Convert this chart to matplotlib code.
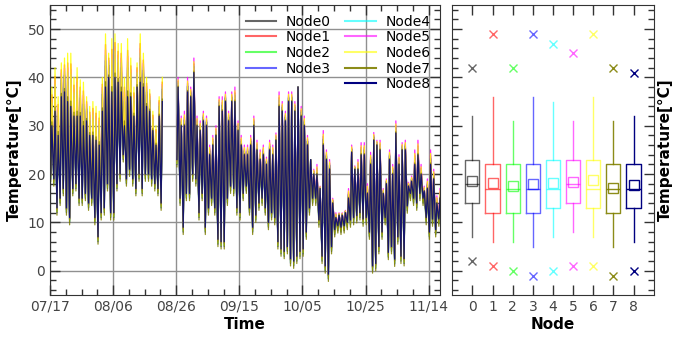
import numpy as np
import matplotlib
matplotlib.use('Agg')
import matplotlib.pyplot as plt
import matplotlib.dates as mdates
from matplotlib.lines import Line2D
from datetime import datetime

nodes = ['Node0', 'Node1', 'Node2', 'Node3', 'Node4', 'Node5', 'Node6', 'Node7', 'Node8']
colors = ['black', 'red', 'lime', 'blue', 'cyan', 'magenta', 'yellow', 'olive', 'navy']
alphas = [0.6, 0.6, 0.6, 0.6, 0.6, 0.6, 0.6, 0.9, 1.0]

# daily values, one entry per day from 07/17 (nan = no data)
top_hi = [38, 42, 36, 43, 44, 45, 45, 40, 42, 39.5, 39, 36, 34, 35, 34, 33, 40, 49, 45, 48,
          49, 47, 47, 40, 48, 44, 38, 43, 49, 45, 40, 37.5, 33, 30, 36, 40, np.nan, np.nan, np.nan, np.nan,
          40, 32, 33, 40, 38, 44, 32, 31, 33, 32, 26, 28, 30, 36, 36, 37, 33, 37, 38, 31,
          28, 26, 26, 28, 32, 27, 25, 26, 23.5, 27, 26, 28.5, 37, 35, 33, 37, 37, 35, 38, 34,
          32, 28, 23, 21, 22, 17.5, 29, 25, 23, 15, 12, 12, 12, 12.5, 17, 26, 21.7, 23, 26.5, 26.5,
          18, 24.5, 28.6, 27, 27, 17, 19, 25, 22, 31, 24, 26.5, 27, 18.3, 19.6, 25, 27, 22, 17.5, 19,
          25, 21, 15.5, 17]
navy_hi = [30, 33, 28, 36, 37, 35, 34, 32, 32, 32, 30, 31, 28, 28, 27, 26, 33, 38, 40, 37,
           40, 39, 37, 30, 36, 36, 32, 38, 39, 38, 34, 33, 29, 26, 32, 35, np.nan, np.nan, np.nan, np.nan,
           38, 30, 30, 37, 36, 41, 30, 29, 31, 30, 24, 26, 28, 34, 33, 35, 31, 35, 35, 29,
           26, 24, 24, 26, 30, 25, 23, 24, 22, 25, 24, 27, 34, 33, 31, 35, 35, 33, 38, 32,
           30, 26, 23, 20, 20, 17, 26, 23, 21, 14, 11, 11.5, 11.5, 12, 15, 24.5, 21, 21, 24, 24,
           16, 22, 27, 26, 25, 16, 18, 23, 20, 28.5, 22, 25, 25, 17.5, 18.5, 22, 24, 20, 16.5, 17,
           22, 19, 14, 15]
navy_lo = [20, 19, 13, 15, 17, 13, 11, 17, 18, 15, 15, 16, 14, 15, 11, 7, 12, 13, 18, 12,
           12, 18, 20, 24, 19, 21, 19, 17, 20, 17, 20, 20, 19, 18, 17, 14, np.nan, np.nan, np.nan, np.nan,
           23, 15, 9, 16, 16, 20, 19, 12, 16, 9, 13, 15, 13, 6.5, 6, 6, 15, 17.5, 17, 13,
           12, 16, 17.5, 13, 9, 11.5, 14, 15, 13, 10, 12, 11, 6, 4.5, 4, 5, 2.5, 2, 3, 4,
           4.5, 8, 13, 15, 15, 10.5, 3, 1, -0.7, 5, 8.5, 9.3, 9, 9.3, 10, 10.5, 11, 11.4, 12, 10.7,
           11, 8, 1, 1.5, 5, 8, 11, 3.8, 5, 2.4, 7, 3, 2.5, 13.4, 16, 15, 14, 16, 15, 11,
           8, 10.7, 8.5, 10.7]

# where each node's afternoon peak sits between navy and the top trace (before / after the gap),
# and how far its night low sits below navy
hi_share_early = [0.4, 0.8, 0.5, 0.5, 0.6, 0.7, 1.0, 0.1, 0.0]
hi_share_late = [0.4, 0.6, 0.4, 0.4, 0.5, 1.0, 0.75, 0.1, 0.0]
gap_day = 38
lo_shift = [-0.2, -0.3, -0.3, -1.0, -0.8, -0.3, -0.8, -1.5, 0.0]

# box statistics
box_q1 = [14, 12, 12, 12, 13, 14, 13, 12, 13]
box_q3 = [23, 22, 22, 22, 23, 23, 23, 22, 22]
box_med = [18, 17, 17, 17, 17, 18, 17, 17, 17]
box_mean = [18.6, 18.2, 17.5, 17.9, 18.2, 18.4, 18.8, 17.1, 17.7]
whis_lo = [7, 6, 6, 5, 7, 8, 7, 5, 6]
whis_hi = [32, 36, 31, 36, 35, 31, 36, 31, 32]
node_min = [2, 1, 0, -1, 0, 1, 1, -1, 0]
node_max = [42, 49, 42, 49, 47, 45, 49, 42, 41]

start = datetime(2019, 7, 17)
t0 = mdates.date2num(start)
ndays = len(top_hi)

t = []
for d in range(ndays):
    t += [t0 + d + 5 / 24, t0 + d + 14 / 24]
t = np.array(t)
top_hi = np.array(top_hi, float)
navy_hi = np.array(navy_hi, float)
navy_lo = np.array(navy_lo, float)
late = np.arange(ndays) >= gap_day

fig = plt.figure(figsize=(6.76, 3.47), dpi=100)
ax = fig.add_axes([0.074, 0.15, 0.577, 0.836])
ax2 = fig.add_axes([0.669, 0.15, 0.298, 0.836], sharey=ax)

handles = []
for k in range(9):
    share = np.where(late, hi_share_late[k], hi_share_early[k])
    hi = navy_hi + share * (top_hi - navy_hi)
    lo = navy_lo + lo_shift[k]
    y = np.column_stack((lo, hi)).ravel()
    ax.plot(t, y, color=colors[k], alpha=0.85, lw=0.9)
    handles.append(Line2D([], [], color=colors[k], alpha=alphas[k], lw=1.5, label=nodes[k]))

ax.set_xlim(t0, t0 + 123.6)
ax.set_ylim(-5, 55)
ax.set_xticks([t0 + 20 * i for i in range(7)])
ax.set_xticks([t0 + 5 * i for i in range(25)], minor=True)
ax.xaxis.set_major_formatter(mdates.DateFormatter('%m/%d'))
ax.set_yticks(range(0, 51, 10))
ax.set_yticks(range(-4, 55, 2), minor=True)
ax.grid(True, which='major', color='#909090', lw=1)
ax.set_xlabel('Time', fontsize=11, fontweight='bold', labelpad=2)
ax.set_ylabel('Temperature[°C]', fontsize=11, fontweight='bold', labelpad=4)
blank = Line2D([], [], color='none', label=' ')
leg_h = handles[:4] + [blank] + handles[4:]
ax.legend(handles=leg_h, ncol=2, loc='upper right', frameon=False, fontsize=10, labelspacing=0.12,
          handlelength=2.2, handletextpad=0.7, columnspacing=1.0, borderaxespad=0.3)

for k in range(9):
    st = dict(med=box_med[k], q1=box_q1[k], q3=box_q3[k], whislo=whis_lo[k], whishi=whis_hi[k],
              mean=box_mean[k], fliers=[node_min[k], node_max[k]])
    c = colors[k]
    a = alphas[k]
    ax2.bxp([st], positions=[k], widths=0.7, showmeans=True, showcaps=False,
            boxprops=dict(color=c, alpha=a, lw=1),
            medianprops=dict(color=c, alpha=a, lw=1),
            whiskerprops=dict(color=c, alpha=a, lw=1),
            meanprops=dict(marker='s', markerfacecolor='none', markeredgecolor=c, alpha=a, markersize=7),
            flierprops=dict(marker='x', markeredgecolor=c, alpha=a, markersize=6, linestyle='none'))

ax2.set_xlim(-1, 9)
ax2.set_xticks(range(9))
ax2.set_xticklabels([str(i) for i in range(9)])
ax2.set_xlabel('Node', fontsize=11, fontweight='bold', labelpad=2)
ax2.yaxis.set_label_position('right')
ax2.set_ylabel('Temperature[°C]', fontsize=11, fontweight='bold', labelpad=3)

for a_ in (ax, ax2):
    a_.tick_params(which='both', direction='in', top=True, right=True, labelsize=10,
                   labelcolor='#444444', colors='#333333')
    a_.tick_params(which='major', length=7, width=1)
    a_.tick_params(which='minor', length=4, width=1)
    for s in a_.spines.values():
        s.set_color('#333333')
ax2.tick_params(axis='y', which='both', labelleft=False, labelright=False)

fig.savefig('out.png', dpi=100)
